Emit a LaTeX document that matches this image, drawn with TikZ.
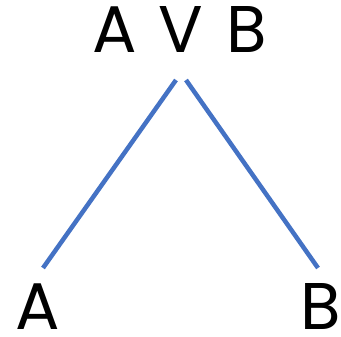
\documentclass[tikz,border=0pt]{standalone}
\usepackage{fontspec}
\setmainfont{Poppins}
\usepackage{tikz}
\usetikzlibrary{positioning}
\definecolor{branchBlue}{HTML}{4472C4}

\begin{document}
\begin{tikzpicture}[x=1pt, y=-1pt,
    letter/.style={inner sep=0pt, anchor=base, font=\fontsize{66}{66}\selectfont},
    branch/.style={branchBlue, line width=4.5pt}]
  \useasboundingbox (0,0) rectangle (341,337);

  \node[letter] (topA) at (115,53) {A};
  \node[letter] (orv) at (181,53) {V};
  \node[letter] (topB) at (247,53) {B};

  \node[letter] (leafA) at (38,330) {A};
  \node[letter] (leafB) at (321,330) {B};

  \draw[branch] ([shift={(-5,27)}]orv.base) -- ([shift={(5,-62)}]leafA.base);
  \draw[branch] ([shift={(5,27)}]orv.base) -- ([shift={(-3,-62)}]leafB.base);
\end{tikzpicture}
\end{document}
